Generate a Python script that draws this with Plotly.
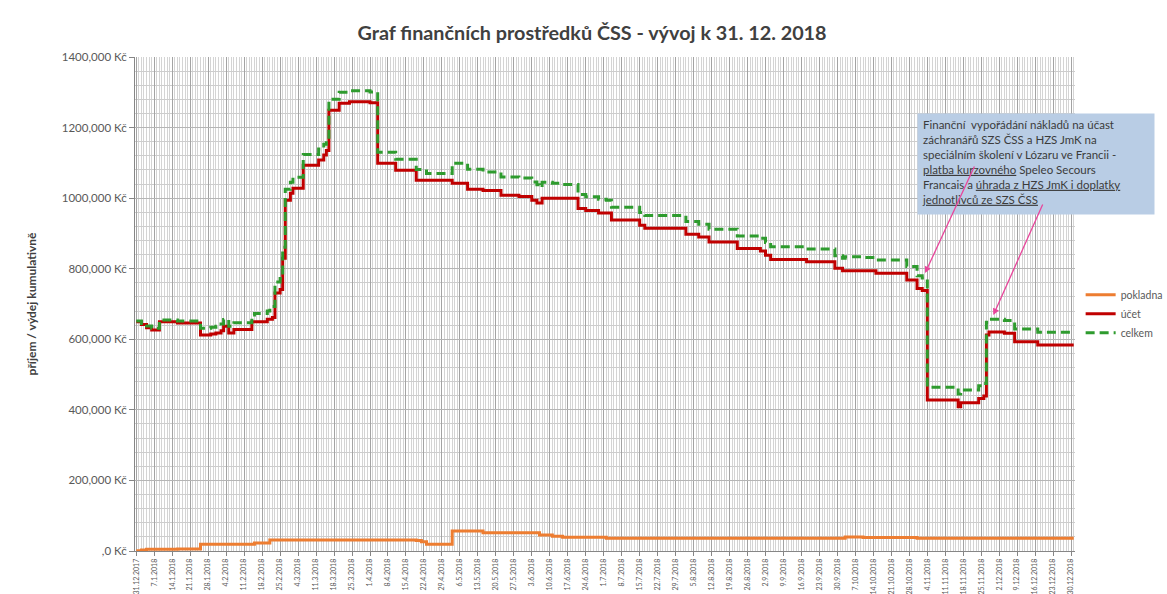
import plotly.graph_objects as go

# ---- data (values in thousands of Kč), each row = value valid from that date ----
dates = [
    "2017-12-31", "2018-01-02", "2018-01-04", "2018-01-06", "2018-01-09", "2018-01-16",
    "2018-01-25", "2018-01-29", "2018-01-31", "2018-02-02", "2018-02-03", "2018-02-05",
    "2018-02-07", "2018-02-14", "2018-02-15", "2018-02-20", "2018-02-21", "2018-02-22",
    "2018-02-23", "2018-02-25", "2018-02-26", "2018-02-27", "2018-03-01", "2018-03-02",
    "2018-03-06", "2018-03-12", "2018-03-14", "2018-03-15", "2018-03-16", "2018-03-20",
    "2018-03-24", "2018-04-01", "2018-04-04", "2018-04-11", "2018-04-19", "2018-04-21",
    "2018-04-23", "2018-05-03", "2018-05-09", "2018-05-15", "2018-05-22", "2018-05-29",
    "2018-06-03", "2018-06-05", "2018-06-06", "2018-06-07", "2018-06-11", "2018-06-15",
    "2018-06-21", "2018-06-24", "2018-06-29", "2018-07-02", "2018-07-04", "2018-07-15",
    "2018-07-17", "2018-08-02", "2018-08-07", "2018-08-11", "2018-08-22", "2018-08-31",
    "2018-09-02", "2018-09-04", "2018-09-18", "2018-09-29", "2018-10-02", "2018-10-03",
    "2018-10-10", "2018-10-15", "2018-10-27", "2018-10-31", "2018-11-02", "2018-11-04",
    "2018-11-16", "2018-11-17", "2018-11-24", "2018-11-26", "2018-11-27", "2018-11-28",
    "2018-12-04", "2018-12-08", "2018-12-17", "2018-12-31",
]
pokladna = [
    1, 3, 5, 5, 5, 6,
    19, 19, 19, 19, 19, 19,
    19, 19, 23, 23, 31, 31,
    31, 31, 31, 31, 31, 31,
    31, 31, 31, 31, 31, 31,
    31, 31, 31, 31, 30, 26,
    19, 57, 57, 52, 52, 52,
    52, 52, 45, 45, 42, 39,
    39, 39, 39, 36, 36, 36,
    36, 36, 36, 36, 36, 36,
    36, 36, 36, 36, 36, 40,
    38, 38, 38, 36, 36, 36,
    36, 36, 36, 36, 36, 36,
    36, 36, 36, 36,
]
ucet = [
    650, 642, 633, 626, 650, 646,
    612, 615, 618, 624, 637, 618,
    628, 650, 650, 657, 657, 662,
    731, 741, 830, 994, 1014, 1028,
    1093, 1108, 1122, 1135, 1249, 1269,
    1273, 1270, 1099, 1079, 1051, 1051,
    1051, 1042, 1025, 1022, 1008, 1005,
    994, 986, 986, 1000, 1000, 1000,
    971, 965, 958, 958, 938, 923,
    915, 898, 890, 876, 857, 850,
    838, 826, 820, 801, 794, 794,
    794, 787, 768, 744, 738, 428,
    409, 420, 432, 439, 612, 621,
    617, 593, 584, 584,
]
celkem = [
    652, 645, 638, 631, 655, 652,
    631, 634, 637, 643, 656, 637,
    647, 669, 673, 680, 688, 693,
    762, 772, 861, 1025, 1045, 1059,
    1124, 1139, 1153, 1166, 1280, 1300,
    1304, 1301, 1130, 1110, 1081, 1077,
    1070, 1099, 1082, 1074, 1060, 1057,
    1046, 1038, 1031, 1045, 1042, 1039,
    1010, 1004, 997, 994, 974, 959,
    951, 934, 926, 912, 893, 886,
    874, 862, 856, 837, 830, 834,
    832, 825, 806, 780, 774, 464,
    445, 456, 468, 475, 648, 657,
    653, 629, 620, 620,
]

y_tick_vals = [0, 200000, 400000, 600000, 800000, 1000000, 1200000, 1400000]
y_tick_text = [",0 Kč", "200,000 Kč", "400,000 Kč", "600,000 Kč", "800,000 Kč",
               "1000,000 Kč", "1200,000 Kč", "1400,000 Kč"]

series_names = ["pokladna", "účet", "celkem"]
series_colors = ["#ED7D31", "#C00000", "#2E9B2E"]

note_text = ("Finanční\u00a0 vypořádání nákladů na účast<br>"
             "záchranářů SZS ČSS a HZS JmK na<br>"
             "speciálním školení v Lózaru ve Francii -<br>"
             "<u>platba kurzovného</u> Speleo Secours<br>"
             "Francais a <u>úhrada z HZS JmK i doplatky</u><br>"
             "<u>jednotlivců ze SZS ČSS</u>")

# ---- figure ----
fig = go.Figure()
for name, vals, color in zip(series_names, [pokladna, ucet, celkem], series_colors):
    fig.add_trace(go.Scatter(
        x=dates, y=[v * 1000 for v in vals], name=name, mode="lines",
        line=dict(color=color, width=3, shape="hv",
                  dash="9px,5px" if name == "celkem" else "solid"),
    ))

W, H = 1167, 594
L, R, T, B = 135, 92, 57, 43
pw, ph = W - L - R, H - T - B

fig.update_layout(
    width=W, height=H,
    margin=dict(l=L, r=R, t=T, b=B, autoexpand=False),
    paper_bgcolor="white", plot_bgcolor="white",
    font=dict(family="Lato", color="#595959"),
    hovermode=False,
    title=dict(text="<b>Graf finančních prostředků ČSS - vývoj k 31. 12. 2018</b>",
               font=dict(size=19.8, color="#404040", family="Lato"),
               x=592 / W, xref="container", xanchor="center",
               y=1 - 33 / H, yref="container", yanchor="middle"),
    showlegend=True,
    legend=dict(x=1.006, y=0.548, xanchor="left", yanchor="top",
                font=dict(size=10.5, color="#595959"),
                bgcolor="rgba(0,0,0,0)", tracegroupgap=0),
    xaxis=dict(
        type="date", range=["2017-12-30 12:00", "2018-12-31 12:00"],
        tick0="2017-12-31", dtick=7 * 86400000, tickformat="%-d.%-m.%Y",
        tickangle=-90, tickfont=dict(size=7, color="#595959"),
        showgrid=True, gridcolor="#a3a3a3", gridwidth=1,
        minor=dict(tick0="2017-12-31", dtick=86400000, showgrid=True,
                   gridcolor="#d4d4d4", gridwidth=1),
        showline=True, linecolor="#868686", linewidth=1,
        ticks="outside", ticklen=4, tickcolor="#868686",
        zeroline=False, automargin=False, fixedrange=True,
    ),
    yaxis=dict(
        range=[0, 1400000], tickmode="array", tickvals=y_tick_vals, ticktext=y_tick_text,
        tickfont=dict(size=11.5, color="#595959"),
        showgrid=True, gridcolor="#b5b5b5", gridwidth=1,
        minor=dict(tickmode="linear", tick0=0, dtick=40000, showgrid=True,
                   gridcolor="#cdcdcd", gridwidth=1),
        showline=True, linecolor="#868686", linewidth=1,
        ticks="outside", ticklen=5, tickcolor="#868686",
        zeroline=False, automargin=False, fixedrange=True,
        title=dict(text="<b>příjem / výdej kumulativně</b>",
                   font=dict(size=12, color="#404040"), standoff=22),
    ),
)

fig.add_annotation(
    xref="paper", yref="paper",
    x=(917 - L) / pw, y=(H - B - 113) / ph,
    xanchor="left", yanchor="top",
    text=note_text, align="left", valign="top", showarrow=False,
    bgcolor="#B9CDE5", width=228, height=92, borderpad=4,
    font=dict(size=11.5, color="#3b3b3b", family="Lato"),
)
for hx, hy, ax, ay in [("2018-11-03 03:00", 787600, 50, -108),
                       ("2018-11-29 17:00", 668800, 50, -112)]:
    fig.add_annotation(
        x=hx, y=hy, xref="x", yref="y", ax=ax, ay=ay, axref="pixel", ayref="pixel",
        text="", showarrow=True, arrowhead=2, arrowsize=1, arrowwidth=1.3,
        arrowcolor="#E8469B",
    )

# remove the default 8px page margin so the figure fills the window exactly
fig.write_html("out.html", config={"displayModeBar": False},
               post_script="document.body.style.margin='0px';")
